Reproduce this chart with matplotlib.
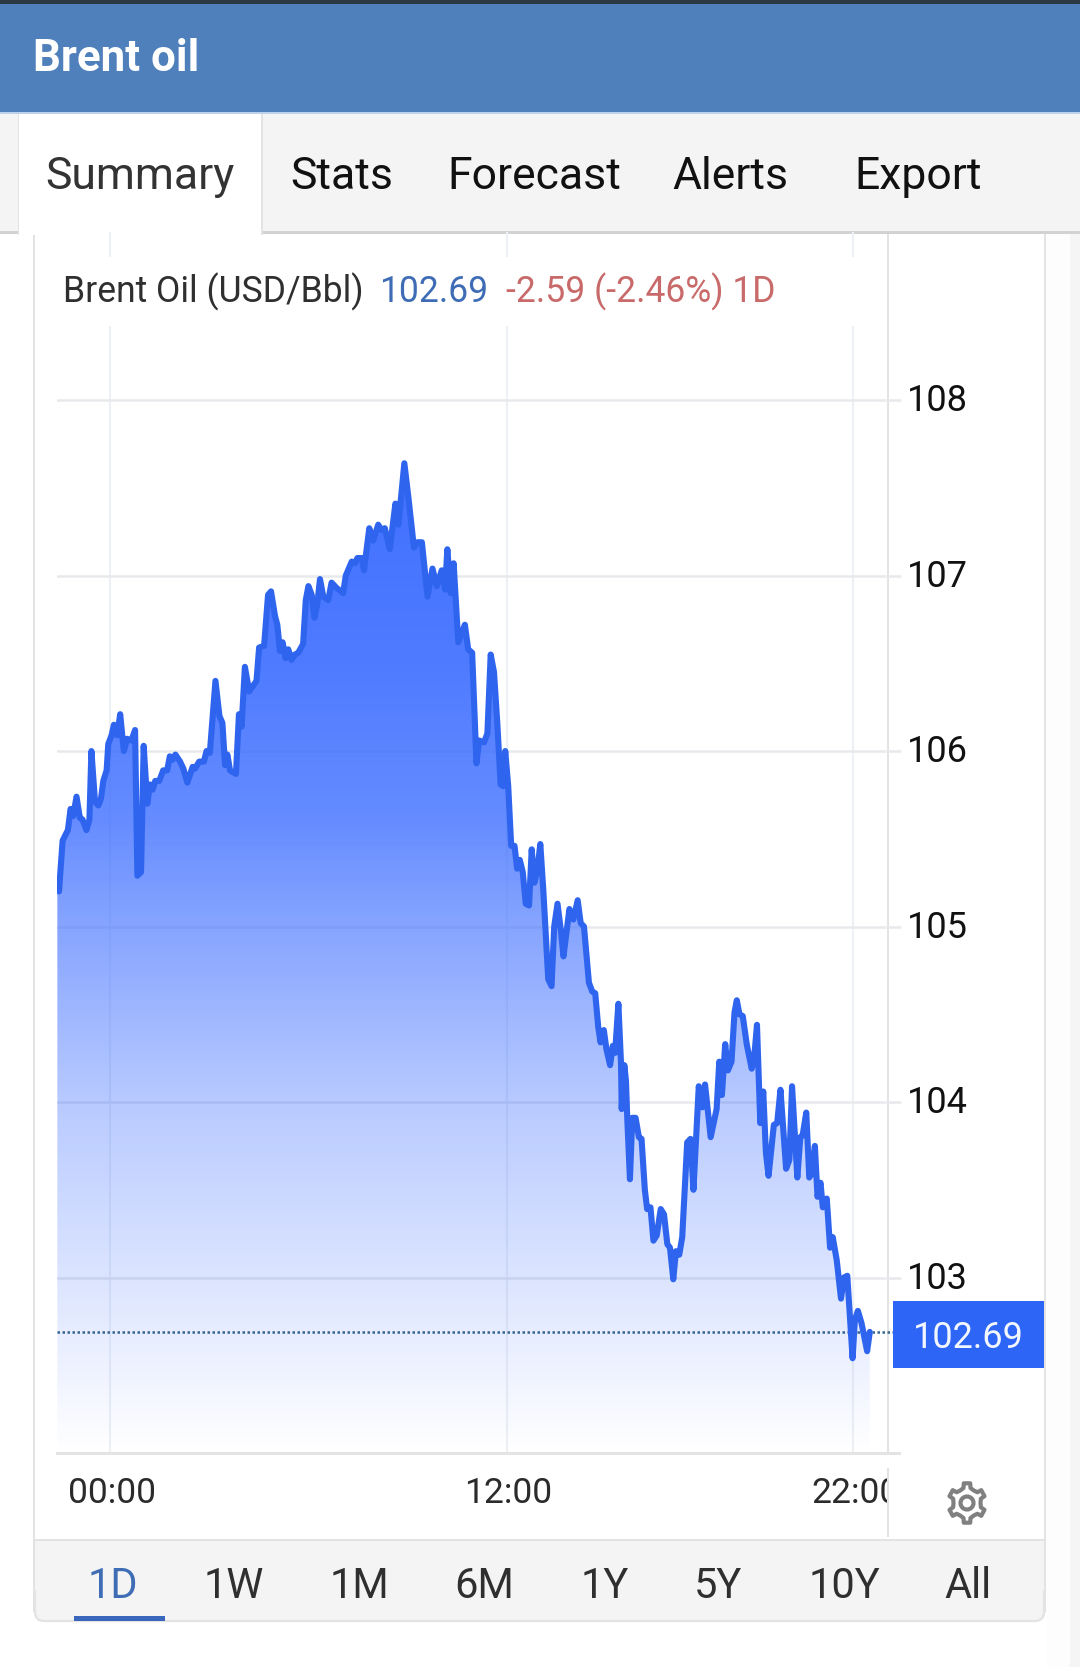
import matplotlib
matplotlib.use('Agg')
import matplotlib.pyplot as plt
import numpy as np
from matplotlib.patches import Rectangle, Polygon, Circle, FancyBboxPatch
from matplotlib.transforms import ScaledTranslation

plt.rcParams['font.family'] = ['Roboto', 'DejaVu Sans']

# chart position in hours (the last tick is not evenly spaced on the source axis)
hours = [
    -1.59, -1.54, -1.43, -1.27, -1.19, -1.11, -1.01, -0.91, -0.83, -0.71, -0.62, -0.56, -0.45, -0.35, -0.27, -0.20,
    -0.10, -0.05, 0.05, 0.12, 0.22, 0.31, 0.42, 0.52, 0.65, 0.76, 0.83, 0.94, 1.02, 1.13, 1.21, 1.29,
    1.37, 1.49, 1.61, 1.73, 1.81, 1.89, 1.98, 2.12, 2.22, 2.34, 2.50, 2.57, 2.70, 2.84, 2.92, 3.02,
    3.19, 3.31, 3.40, 3.48, 3.55, 3.63, 3.81, 3.90, 3.98, 4.08, 4.21, 4.43, 4.51, 4.66, 4.78, 4.87,
    4.99, 5.06, 5.14, 5.22, 5.31, 5.39, 5.49, 5.59, 5.69, 5.84, 5.92, 6.00, 6.10, 6.18, 6.27, 6.35,
    6.45, 6.60, 6.70, 6.85, 7.05, 7.13, 7.31, 7.41, 7.48, 7.61, 7.68, 7.84, 7.96, 8.11, 8.21, 8.31,
    8.46, 8.63, 8.72, 8.90, 9.02, 9.19, 9.30, 9.43, 9.60, 9.75, 9.88, 10.03, 10.13, 10.20, 10.30, 10.39,
    10.53, 10.73, 10.83, 10.95, 11.08, 11.16, 11.31, 11.41, 11.51, 11.61, 11.71, 11.81, 11.89, 11.95, 12.04, 12.13,
    12.23, 12.31, 12.39, 12.48, 12.57, 12.67, 12.75, 12.83, 12.92, 13.01, 13.10, 13.25, 13.35, 13.43, 13.53, 13.63,
    13.71, 13.89, 14.01, 14.14, 14.23, 14.33, 14.48, 14.58, 14.67, 14.76, 14.83, 14.93, 15.01, 15.12, 15.20, 15.27,
    15.37, 15.45, 15.47, 15.55, 15.60, 15.64, 15.72, 15.79, 15.89, 15.99, 16.07, 16.17, 16.24, 16.34, 16.43, 16.53,
    16.65, 16.75, 16.85, 16.93, 17.03, 17.11, 17.21, 17.30, 17.45, 17.55, 17.64, 17.80, 17.91, 17.99, 18.16, 18.34,
    18.42, 18.50, 18.60, 18.68, 18.79, 18.88, 18.95, 19.03, 19.13, 19.25, 19.40, 19.47, 19.56, 19.66, 19.75, 19.83,
    19.91, 20.07, 20.17, 20.27, 20.44, 20.54, 20.62, 20.78, 20.87, 20.94, 21.05, 21.14, 21.21, 21.31, 21.39, 21.48,
    21.55, 21.67, 21.77, 21.85, 21.97, 22.10, 22.19, 22.29, 22.45, 22.52, 22.61, 22.72, 22.89, 22.97,
]
prices = [
    105.26, 105.20, 105.49, 105.55, 105.67, 105.63, 105.74, 105.62, 105.61, 105.55, 105.61, 106.00, 105.71, 105.69, 105.73, 105.83,
    105.89, 106.04, 106.09, 106.15, 106.09, 106.21, 106.00, 106.07, 106.06, 106.12, 105.29, 105.31, 106.03, 105.70, 105.81, 105.78,
    105.83, 105.83, 105.89, 105.89, 105.97, 105.95, 105.98, 105.94, 105.90, 105.82, 105.91, 105.90, 105.94, 105.94, 106.00, 105.99,
    106.40, 106.20, 106.16, 105.92, 105.98, 105.89, 105.87, 106.21, 106.14, 106.48, 106.34, 106.40, 106.59, 106.60, 106.89, 106.91,
    106.77, 106.72, 106.57, 106.62, 106.53, 106.58, 106.52, 106.55, 106.56, 106.61, 106.86, 106.94, 106.89, 106.76, 106.84, 106.98,
    106.88, 106.86, 106.96, 106.93, 106.90, 107.00, 107.08, 107.07, 107.10, 107.10, 107.03, 107.27, 107.20, 107.29, 107.26, 107.27,
    107.15, 107.41, 107.29, 107.64, 107.45, 107.16, 107.19, 107.19, 106.88, 107.04, 106.94, 107.03, 106.92, 107.15, 106.90, 107.07,
    106.62, 106.72, 106.58, 106.56, 105.93, 106.06, 106.05, 106.10, 106.55, 106.45, 106.16, 105.81, 105.80, 106.00, 105.80, 105.46,
    105.46, 105.33, 105.38, 105.31, 105.13, 105.12, 105.44, 105.25, 105.32, 105.47, 105.21, 104.70, 104.66, 105.00, 105.13, 104.98,
    104.83, 105.10, 105.04, 105.15, 105.02, 105.00, 104.68, 104.63, 104.62, 104.43, 104.34, 104.41, 104.30, 104.21, 104.32, 104.28,
    104.56, 104.22, 103.96, 104.21, 104.12, 103.90, 103.56, 103.91, 103.91, 103.80, 103.79, 103.50, 103.39, 103.40, 103.21, 103.24,
    103.39, 103.36, 103.19, 103.17, 102.99, 103.15, 103.13, 103.23, 103.77, 103.79, 103.50, 104.09, 103.97, 104.10, 103.80, 103.96,
    104.23, 104.04, 104.33, 104.18, 104.23, 104.51, 104.58, 104.50, 104.49, 104.33, 104.19, 104.24, 104.44, 103.88, 104.06, 103.71,
    103.58, 103.87, 103.88, 104.07, 103.62, 103.67, 104.09, 103.57, 103.80, 103.81, 103.94, 103.57, 103.59, 103.75, 103.46, 103.54,
    103.40, 103.45, 103.17, 103.23, 103.10, 102.88, 103.00, 103.01, 102.54, 102.76, 102.81, 102.74, 102.58, 102.69,
]
last_price = 102.69

y_ticks = [103, 104, 105, 106, 107, 108]
x_tick_pos = [0, 12, 22.46]
x_tick_labels = ['00:00', '12:00', '22:00']

tab_names = ['Summary', 'Stats', 'Forecast', 'Alerts', 'Export']
range_names = ['1D', '1W', '1M', '6M', '1Y', '5Y', '10Y', 'All']

W, H = 1080, 1667
BLUE = '#2f65ee'
GRID = '#e7e9ec'
VGRID = '#edf1f5'
GREY = '#f4f4f4'
BORDER = '#e3e3e3'

fig = plt.figure(figsize=(W / 100, H / 100), dpi=100, facecolor='white')


def full_axes(z):
    a = fig.add_axes([0, 0, 1, 1], zorder=z)
    a.set_xlim(0, W)
    a.set_ylim(H, 0)
    a.axis('off')
    return a


ui = full_axes(0)
top = full_axes(2)


def box(a, x0, y0, x1, y1, color, z=1):
    a.add_patch(Rectangle((x0, y0), x1 - x0, y1 - y0, facecolor=color, edgecolor='none', zorder=z))


# page chrome
box(ui, 1046, 233, 1070, H, '#fdfdfd')
box(ui, 1070, 233, W, H, '#f5f5f5')
box(ui, 0, 0, W, 4, '#2d3845', 3)
box(ui, 0, 4, W, 112, '#4f80bb', 3)
box(ui, 0, 112, W, 114, '#bcd2ea', 3)
box(ui, 0, 114, W, 231, GREY, 3)
box(ui, 0, 231, W, 234, '#d2d2d2', 3)
box(ui, 19, 114, 262, 235, 'white', 4)
box(ui, 18, 114, 19, 235, BORDER, 4)
box(ui, 261, 114, 263, 235, BORDER, 4)

# card, the bottom bar has rounded corners only below
box(ui, 33, 234, 35, 1612, BORDER, 2)
box(ui, 1044, 234, 1046, 1612, BORDER, 2)
box(ui, 887, 234, 889, 1453, BORDER, 2)
box(ui, 887, 1468, 889, 1537, BORDER, 2)
box(ui, 887, 1452, 901, 1455, BORDER, 2)
ui.add_patch(FancyBboxPatch((35, 1560), 1009, 61, boxstyle='round,pad=0,rounding_size=9',
                            facecolor=GREY, edgecolor=BORDER, linewidth=1.6, zorder=2))
box(ui, 35, 1541, 1044, 1590, GREY, 3)
box(ui, 34, 1539, 1046, 1541, BORDER, 3)
box(ui, 33, 1541, 35, 1612, BORDER, 3)
box(ui, 1044, 1541, 1046, 1612, BORDER, 3)

# chart
ax = fig.add_axes([57 / W, 1 - 1453 / H, (885 - 57) / W, (1453 - 232) / H], zorder=1)
ax.patch.set_visible(False)
for s in ['top', 'left', 'right']:
    ax.spines[s].set_visible(False)
ax.spines['bottom'].set_color('#e4e4e4')
ax.spines['bottom'].set_linewidth(2.2)

ax.set_xlim(-1.60, 23.43)
ax.set_ylim(102, 108.958)
ax.set_axisbelow(True)
ax.yaxis.tick_right()
ax.set_yticks(y_ticks)
ax.set_xticks(x_tick_pos)
ax.set_xticklabels(x_tick_labels)
ax.grid(axis='y', color=GRID, linewidth=1.8)
ax.grid(axis='x', color=VGRID, linewidth=1.5)
ax.tick_params(axis='y', length=11.5, width=1.8, color=GRID, pad=4.5, labelsize=26, labelcolor='#111111')
ax.tick_params(axis='x', length=0, pad=17.5, labelsize=25.5, labelcolor='#2b2b2b')

# gradient under the line, clipped to the area
area = ax.fill_between(hours, prices, 102, facecolor='none', edgecolor='none')
frac = np.linspace(0, 1, 256)
grad = np.zeros((256, 1, 4))
grad[:, 0, 0] = 64 / 255
grad[:, 0, 1] = 112 / 255
grad[:, 0, 2] = 1.0
grad[:, 0, 3] = np.interp(frac, [0, 0.2, 0.36, 0.456, 0.65, 0.83, 1], [1, 0.93, 0.81, 0.65, 0.37, 0.18, 0])
im = ax.imshow(grad, extent=[-1.6, 23.43, 102, 107.64], aspect='auto', origin='upper', zorder=2)
im.set_clip_path(area.get_paths()[0], transform=ax.transData)
ax.set_xlim(-1.60, 23.43)
ax.set_ylim(102, 108.958)

ax.plot(hours, prices, color=BLUE, linewidth=4.4, solid_joinstyle='round', solid_capstyle='round', zorder=3)
ax.plot([0, 1.01], [last_price, last_price], transform=ax.get_yaxis_transform(), color='#36648f',
        linewidth=1.8, linestyle=(0, (1, 1)), clip_on=False, zorder=2.5)

# x labels sit a little right of their ticks, the last one is cut by the axis line
clip = Rectangle((0, 1460), 887, 60, transform=ui.transData)
for lab, dx in zip(ax.get_xticklabels(), [2, 1, 3]):
    lab.set_transform(lab.get_transform() + ScaledTranslation(dx / 100, 0, fig.dpi_scale_trans))
    lab.set_clip_path(clip)
    lab.set_clip_on(True)
for lab in ax.get_yticklabels():
    lab.set_transform(lab.get_transform() + ScaledTranslation(0, 3 / 100, fig.dpi_scale_trans))

# last price box
box(top, 893, 1301, 1044, 1368, '#2d66f6', 3)
top.text(968, 1348, '%.2f' % last_price, color='#f2f6ff', fontsize=26, ha='center', va='baseline', zorder=4)

# header texts
top.text(33, 71, 'Brent oil', color='white', fontsize=31.6, fontweight='bold', ha='left', va='baseline', zorder=5)
for name, x in zip(tab_names, [45, 290, 447, 672, 854]):
    top.text(x, 189, name, color='#333333' if name == 'Summary' else '#111111', fontsize=32, ha='left', va='baseline', zorder=5)

# subtitle, masks the vertical grid behind it
box(top, 36, 257, 886, 326, 'white', 0)
top.text(63, 302, 'Brent Oil (USD/Bbl)', color='#2f2f2f', fontsize=25.6, ha='left', va='baseline', zorder=5)
top.text(379, 302, '102.69', color='#3f6db5', fontsize=25.6, ha='left', va='baseline', zorder=5)
top.text(506, 302, '-2.59 (-2.46%) 1D', color='#c96a6a', fontsize=25.6, ha='left', va='baseline', zorder=5)

# range selector
for name, x in zip(range_names, [113, 234, 359, 484, 605, 718, 844, 968]):
    top.text(x, 1598, name, color='#3f6db5' if name == '1D' else '#2f2f2f', fontsize=30, ha='center', va='baseline', zorder=5)
box(top, 74, 1616, 165, 1621, '#3a66bd', 5)

# settings icon
cx, cy = 967, 1503
pts = []
for k in range(6):
    a = np.radians(90 + 60 * k)
    for da, r in [(-30, 14.5), (-14, 15.5), (-10, 20), (10, 20), (14, 15.5)]:
        pts.append((cx + 0.93 * r * np.cos(a + np.radians(da)), cy - r * np.sin(a + np.radians(da))))
top.add_patch(Polygon(pts, closed=True, facecolor='none', edgecolor='#808080', linewidth=3, joinstyle='round', zorder=5))
top.add_patch(Circle((cx, cy), 6.5, facecolor='none', edgecolor='#808080', linewidth=3, zorder=5))

fig.savefig('out.png', dpi=100)
plt.close()
